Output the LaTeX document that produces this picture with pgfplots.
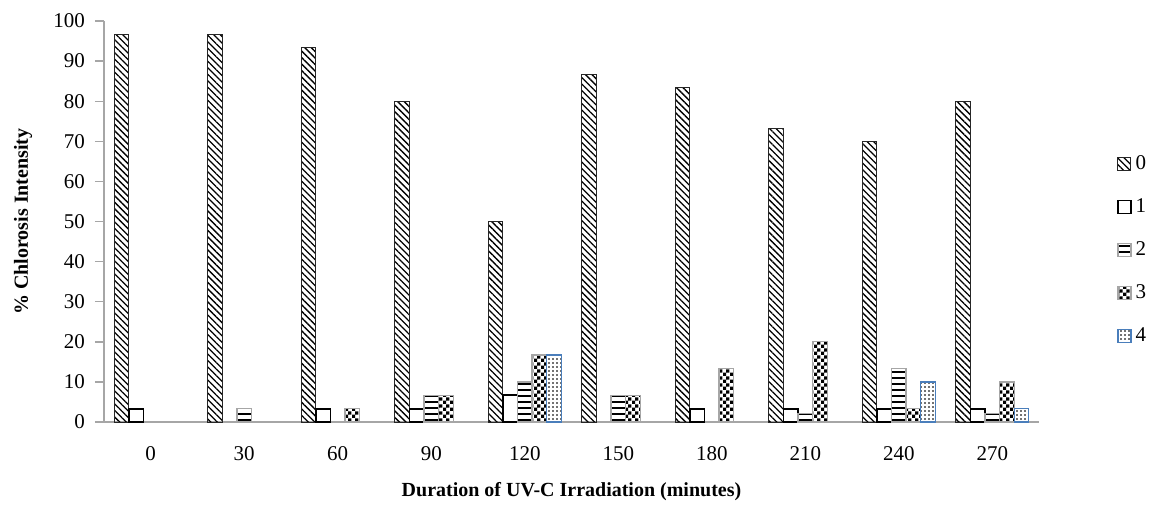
\documentclass[border=0pt]{standalone}
\usepackage{fontspec}
\setmainfont{Liberation Serif}
\usepackage{pgfplots}
\pgfplotsset{compat=1.18}
\usetikzlibrary{patterns,patterns.meta}
\pgfdeclarepatternformonly{mychecker}{\pgfpointorigin}{\pgfpoint{3.6pt}{3.6pt}}{\pgfpoint{3.6pt}{3.6pt}}{%
  \pgfpathrectangle{\pgfpointorigin}{\pgfpoint{1.8pt}{1.8pt}}%
  \pgfpathrectangle{\pgfpoint{1.8pt}{1.8pt}}{\pgfpoint{1.8pt}{1.8pt}}%
  \pgfusepath{fill}}
\pgfdeclarepatternformonly{mydots}{\pgfpoint{-0.5pt}{-0.5pt}}{\pgfpoint{2pt}{2pt}}{\pgfpoint{2pt}{2pt}}{%
  \pgfpathrectangle{\pgfpoint{0pt}{0pt}}{\pgfpoint{0.8pt}{0.8pt}}%
  \pgfusepath{fill}}
\definecolor{axisgray}{HTML}{A6A6A6}
\definecolor{blueedge}{HTML}{4A7EBB}
\begin{document}
\begin{tikzpicture}
\begin{axis}[
  scale only axis,
  width=467.5pt, height=200.5pt,
  ybar=0pt, bar width=7.3pt,
  xmin=-0.5, xmax=9.5, ymin=0, ymax=100,
  xtick={0,1,2,3,4,5,6,7,8,9},
  xticklabels={0,30,60,90,120,150,180,210,240,270},
  ytick={0,10,...,100},
  axis x line*=bottom, axis y line*=left,
  axis line style={draw=axisgray, line width=0.7pt, -},
  major x tick style={draw=none},
  major y tick style={draw=axisgray, line width=0.7pt},
  tick align=outside, major tick length=4.5pt,
  /pgf/number format/assume math mode=true,
  tick label style={font=\fontsize{10.5}{12}\selectfont},
  xticklabel style={yshift=-4pt},
  yticklabel style={xshift=-1.5pt},
  xlabel={Duration of UV-C Irradiation (minutes)},
  ylabel={\% Chlorosis Intensity},
  label style={font=\fontsize{10}{12}\selectfont\bfseries},
  xlabel style={at={(axis description cs:0.5,-0.1746)}, anchor=center},
  ylabel style={at={(axis description cs:-0.0866,0.5)}, anchor=center},
  legend style={draw=none, at={(1.081,0.429)}, anchor=west,
    font=\fontsize{10.5}{12}\selectfont, row sep=9pt, inner sep=1pt,
    legend cell align=left},
  legend image code/.code={\draw[#1] (0pt,-3.25pt) rectangle (6.5pt,3.25pt);},
]
\addplot[draw=black!85, line width=0.5pt, pattern={Lines[angle=-45,distance=2.3pt,line width=0.65pt]}, pattern color=black]
  coordinates {(0,96.7) (1,96.7) (2,93.3) (3,80) (4,50) (5,86.7) (6,83.3) (7,73.3) (8,70) (9,80)};
\addlegendentry{0}
\addplot[draw=black, line width=0.8pt, fill=white]
  coordinates {(0,3.3) (2,3.3) (3,3.3) (4,6.7) (6,3.3) (7,3.3) (8,3.3) (9,3.3)};
\addlegendentry{1}
\addplot[draw=axisgray, line width=0.6pt, pattern={Lines[angle=0,distance=3pt,line width=0.9pt]}, pattern color=black]
  coordinates {(1,3.3) (3,6.7) (4,10) (5,6.7) (7,2.2) (8,13.3) (9,2.2)};
\addlegendentry{2}
\addplot[draw=axisgray, line width=0.6pt, pattern=mychecker, pattern color=black]
  coordinates {(2,3.3) (3,6.7) (4,16.7) (5,6.7) (6,13.3) (7,20) (8,3.3) (9,10)};
\addlegendentry{3}
\addplot[draw=blueedge, line width=0.6pt, pattern=mydots, pattern color=black!55]
  coordinates {(4,16.7) (8,10) (9,3.3)};
\addlegendentry{4}
\end{axis}
\pgfresetboundingbox
\path ([shift={(-52pt,-41pt)}]current axis.south west) rectangle ([shift={(62pt,10.5pt)}]current axis.north east);
\end{tikzpicture}
\end{document}
